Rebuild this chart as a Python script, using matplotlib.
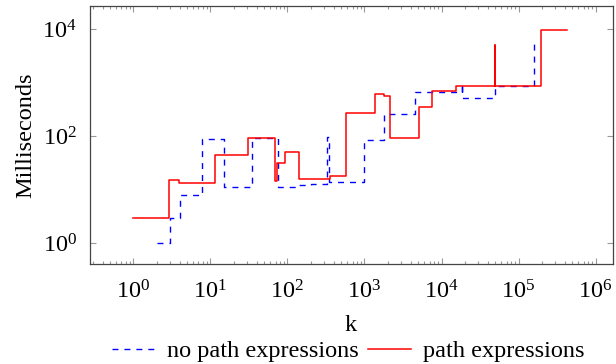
import matplotlib
matplotlib.use("Agg")
import matplotlib.pyplot as plt
from matplotlib.ticker import LogLocator, FixedLocator, NullLocator, LogFormatterMathtext

# ---- data (step plots, value holds from k_i to k_{i+1}) ----
k_nopath = [2, 3, 4, 7.8, 15.2, 34.4, 74.6, 130, 200, 324, 351, 1000, 1780, 4560,
            18500, 18500, 50000, 161000]
ms_nopath = [1.0, 3.0, 8.1, 87, 11.3, 92, 11.3, 12.0, 12.8, 97, 14.2, 84, 265, 675,
             1000, 520, 860, 6200]

k_path = [1, 2.93, 3.87, 11.5, 31, 69.8, 72.6, 94, 143, 357, 575, 1350, 1780, 2170,
          5070, 7480, 15500, 49000, 49000, 197000, 424000]
ms_path = [3.0, 15, 13.4, 44, 91, 14.6, 31.7, 51, 15.5, 17.8, 272, 625, 565, 91,
           345, 705, 870, 5000, 870, 9800, 9800]

x_major = [1, 10, 100, 1000, 10000, 100000, 1000000]
y_major = [1, 100, 10000]
labels = ["no path expressions", "path expressions"]

plt.rcParams['font.family'] = ['Liberation Serif', 'DejaVu Serif']
plt.rcParams['mathtext.fontset'] = 'custom'
plt.rcParams['mathtext.rm'] = 'Liberation Serif'
plt.rcParams['mathtext.it'] = 'Liberation Serif:italic'

FS = 17.5

fig = plt.figure(figsize=(6.16, 3.64), dpi=100)
ax = fig.add_axes([89.5 / 616, 1 - 264 / 364, (612.5 - 89.5) / 616, (264 - 5.7) / 364])

ax.step(k_nopath, ms_nopath, where='post', color='blue', lw=1.0,
        dashes=(4.3, 4.3), label=labels[0])
ax.step(k_path, ms_path, where='post', color='red', lw=1.1, label=labels[1])

ax.set_xscale('log')
ax.set_yscale('log')
ax.set_xlim(10 ** -0.57, 10 ** 6.22)
ax.set_ylim(10 ** -0.39, 10 ** 4.44)

ax.xaxis.set_major_locator(FixedLocator(x_major))
ax.xaxis.set_minor_locator(LogLocator(base=10, subs=range(2, 10), numticks=20))
ax.xaxis.set_major_formatter(LogFormatterMathtext())
ax.yaxis.set_major_locator(FixedLocator(y_major))
ax.yaxis.set_minor_locator(NullLocator())
ax.yaxis.set_major_formatter(LogFormatterMathtext())

ax.tick_params(which='both', direction='in', top=True, right=True, color='#999999',
               labelsize=FS)
ax.tick_params(which='major', length=4, width=0.8)
ax.tick_params(which='minor', length=2.5, width=0.8)
ax.tick_params(axis='x', which='major', pad=12)
ax.tick_params(axis='y', which='major', pad=9)
for s in ax.spines.values():
    s.set_color('#444444')
    s.set_linewidth(0.9)

ax.set_xlabel('k', fontsize=FS, labelpad=8)
ax.set_ylabel('Milliseconds', fontsize=FS, labelpad=4)

fig.legend(loc='center', bbox_to_anchor=(348 / 616, 1 - 351 / 364), ncol=2,
           frameon=False, fontsize=FS, handlelength=1.75, columnspacing=0.4,
           handletextpad=0.5, borderpad=0, borderaxespad=0)

fig.savefig('out.png', dpi=100)
